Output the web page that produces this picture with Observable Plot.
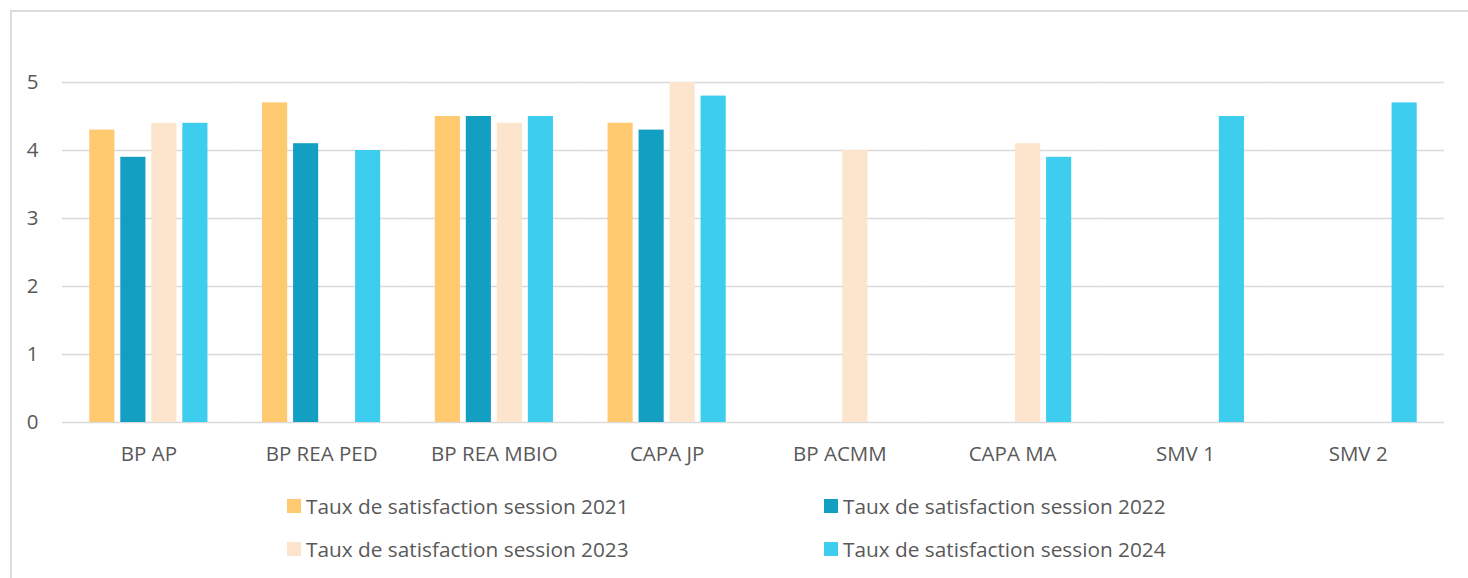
<!DOCTYPE html>
<html>
<head>
<meta charset="utf-8">
<script src="https://cdn.jsdelivr.net/npm/d3@7"></script>
<script src="https://cdn.jsdelivr.net/npm/@observablehq/plot@0.6"></script>
<style>
  html, body { margin: 0; padding: 0; background: #fff; }
  body { width: 1468px; height: 578px; position: relative; overflow: hidden; font-family: "Open Sans", sans-serif; }
  #frame { position: absolute; left: 10px; top: 10px; width: 1500px; height: 700px; border-top: 2px solid #dcdcdc; border-left: 2px solid #dcdcdc; box-sizing: border-box; }
  #chart { position: absolute; left: 0; top: 0; }
  .legend { position: absolute; display: flex; align-items: center; font-size: 20.8px; color: #595959; white-space: nowrap; }
  .legend .sw { width: 14px; height: 14px; margin-right: 5px; }
</style>
</head>
<body>
<div id="frame"></div>
<div id="chart"></div>
<div id="legend"></div>
<script>
const categories = ["BP AP", "BP REA PED", "BP REA MBIO", "CAPA JP", "BP ACMM", "CAPA MA", "SMV 1", "SMV 2"];
const series = ["Taux de satisfaction session 2021", "Taux de satisfaction session 2022", "Taux de satisfaction session 2023", "Taux de satisfaction session 2024"];
const colors = ["#FFC96F", "#129FC2", "#FCE4CD", "#3DCDEF"];
const s2021 = [4.3, 4.7, 4.5, 4.4, null, null, null, null];
const s2022 = [3.9, 4.1, 4.5, 4.3, null, null, null, null];
const s2023 = [4.4, null, 4.4, 5.0, 4.0, 4.1, null, null];
const s2024 = [4.4, 4.0, 4.5, 4.8, null, 3.9, 4.5, 4.7];
const yTicks = [0, 1, 2, 3, 4, 5];

const allSeries = [s2021, s2022, s2023, s2024];
const data = [];
categories.forEach((c, i) => {
  allSeries.forEach((s, j) => {
    if (s[i] != null) data.push({cat: c, series: series[j], value: s[i]});
  });
});

const chart = Plot.plot({
  width: 1468,
  height: 480,
  marginLeft: 62,
  marginRight: 24,
  marginTop: 82,
  marginBottom: 58,
  style: {fontFamily: "'Open Sans', sans-serif", fontSize: "20.5px", color: "#595959", background: "transparent"},
  fx: {domain: categories, padding: 0, round: false, label: null, tickSize: 0, tickPadding: 24, axis: "bottom"},
  x: {domain: series, paddingInner: 0.19, paddingOuter: 0.88, round: false, axis: null},
  y: {domain: [0, 5], ticks: yTicks, tickFormat: "d", tickSize: 0, tickPadding: 24, label: null},
  color: {domain: series, range: colors},
  marks: [
    Plot.ruleY(yTicks, {stroke: "#d9d9d9", strokeWidth: 1.6}),
    Plot.barY(data, {fx: "cat", x: "series", y: "value", fill: "series"})
  ]
});
document.getElementById("chart").appendChild(chart);

const legendPos = [[287, 506], [824, 506], [287, 549], [824, 549]];
const leg = document.getElementById("legend");
series.forEach((s, i) => {
  const d = document.createElement("div");
  d.className = "legend";
  d.style.left = legendPos[i][0] + "px";
  d.style.top = (legendPos[i][1] - 15) + "px";
  d.style.height = "30px";
  const sw = document.createElement("div");
  sw.className = "sw";
  sw.style.background = colors[i];
  const t = document.createElement("span");
  t.textContent = s;
  d.appendChild(sw);
  d.appendChild(t);
  leg.appendChild(d);
});
</script>
</body>
</html>
